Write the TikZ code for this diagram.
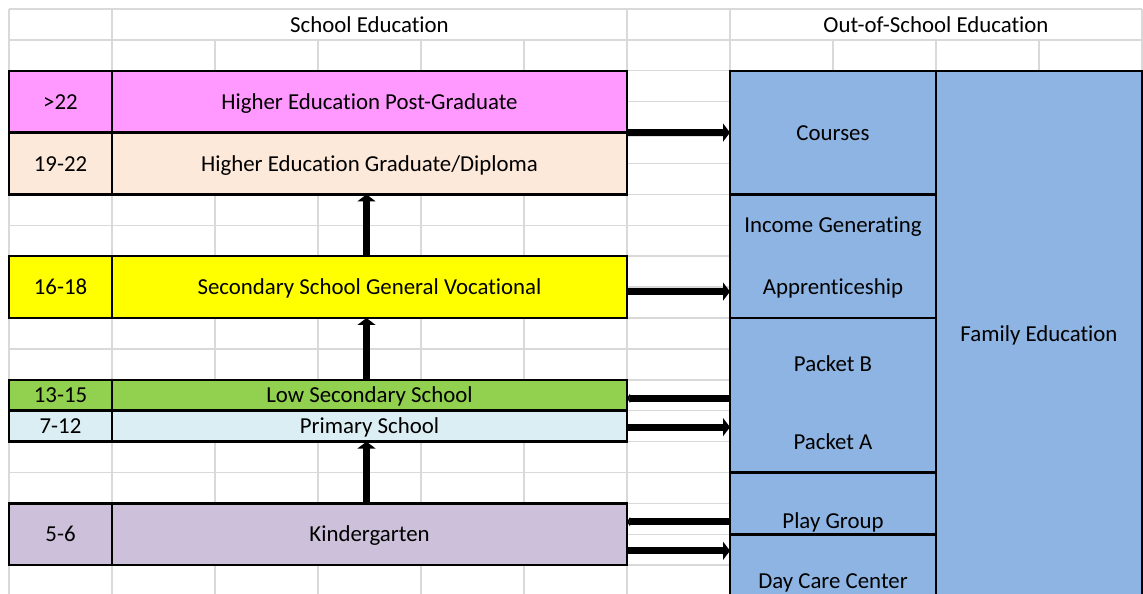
\documentclass[tikz,border=0pt]{standalone}
\usepackage{fontspec}
\setmainfont{Carlito}[Ligatures=NoCommon]
\usetikzlibrary{arrows.meta}

\definecolor{postgradpink}{RGB}{255,153,255}
\definecolor{gradpeach}{RGB}{253,233,217}
\definecolor{secyellow}{RGB}{255,255,0}
\definecolor{lowgreen}{RGB}{146,208,80}
\definecolor{primblue}{RGB}{218,238,243}
\definecolor{kglavender}{RGB}{204,192,218}
\definecolor{outblue}{RGB}{141,180,226}
\definecolor{cellgray}{RGB}{217,217,217}

\tikzset{
  cell/.style={draw=black, line width=1.4pt, rectangle, anchor=north west,
    inner sep=0pt, outer sep=0pt, font=\fontsize{13}{15}\selectfont,
    text height=10pt, text depth=1.3pt},
  agecell/.style={cell, minimum width=2.06cm},
  stagecell/.style={cell, minimum width=10.3cm},
  outcell/.style={cell, fill=outblue, minimum width=4.12cm},
  gridline/.style={draw=cellgray, line width=0.8pt},
  txt/.style={font=\fontsize{13}{15}\selectfont, inner sep=0pt,
    text height=10pt, text depth=1.3pt},
  flow/.style={line width=0.14cm, -{Triangle[length=0.14cm,width=0.36cm]}},
  back/.style={line width=0.14cm, -{Triangle[length=0.06cm,width=0.18cm]}},
}

\begin{document}
\begin{tikzpicture}[x=2.06cm, y=-0.618cm]
  \useasboundingbox (-0.0874,-0.2913) rectangle (11.0097,18.9);
  \clip (-0.0874,-0.2913) rectangle (11.0097,18.9);

  % Sheet grid
  \foreach \r in {0,...,19}
    \draw[gridline] (0,\r) -- (11,\r);
  \foreach \c in {0,...,11}
    \draw[gridline] (\c,1) -- (\c,19.5);
  \foreach \c in {0,1,6,7,11}
    \draw[gridline] (\c,0) -- (\c,1);

  % Headings
  \node[txt] (schoolhd) at (3.5,0.5) {School Education};
  \node[txt] (outhd) at (9,0.5) {Out-of-School Education};

  % School stages
  \node[agecell, fill=postgradpink, minimum height=1.236cm] (pgage) at (0,2) {>22};
  \node[stagecell, fill=postgradpink, minimum height=1.236cm] (pg) at (1,2) {Higher Education Post-Graduate};
  \node[agecell, fill=gradpeach, minimum height=1.236cm] (gradage) at (0,4) {19-22};
  \node[stagecell, fill=gradpeach, minimum height=1.236cm] (grad) at (1,4) {Higher Education Graduate/Diploma};
  \node[agecell, fill=secyellow, minimum height=1.236cm] (secage) at (0,8) {16-18};
  \node[stagecell, fill=secyellow, minimum height=1.236cm] (sec) at (1,8) {Secondary School General Vocational};
  \node[agecell, fill=lowgreen, minimum height=0.618cm] (lowage) at (0,12) {13-15};
  \node[stagecell, fill=lowgreen, minimum height=0.618cm] (low) at (1,12) {Low Secondary School};
  \node[agecell, fill=primblue, minimum height=0.618cm] (primage) at (0,13) {7-12};
  \node[stagecell, fill=primblue, minimum height=0.618cm] (prim) at (1,13) {Primary School};
  \node[agecell, fill=kglavender, minimum height=1.236cm] (kgage) at (0,16) {5-6};
  \node[stagecell, fill=kglavender, minimum height=1.236cm] (kg) at (1,16) {Kindergarten};

  % Out-of-school programmes
  \node[outcell, minimum height=2.472cm] (courses) at (7,2) {Courses};
  \node[outcell, minimum height=2.472cm] (income) at (7,6) {};
  \node[txt] (incgen) at (8,7) {Income Generating};
  \node[txt] (appr) at (8,9) {Apprenticeship};
  \node[outcell, minimum height=3.09cm] (packet) at (7,10) {};
  \node[txt] (pktb) at (8,11.5) {Packet B};
  \node[txt] (pkta) at (8,14) {Packet A};
  \node[outcell, minimum height=1.236cm] (play) at (7,15) {};
  \node[txt] (playlbl) at (8,16.55) {Play Group};
  \node[outcell, minimum height=1.854cm] (daycare) at (7,17) {Day Care Center};
  \node[outcell, minimum height=10.506cm] (family) at (9,2) {Family Education};

  % Links between the two sides
  \draw[flow] (pg.south east) -- (courses.west);
  \draw[flow] ([yshift=-0.09cm]sec.east) -- ([yshift=-0.09cm]sec.east -| income.west);
  \draw[back] ([yshift=-0.06cm]low.east -| packet.west) -- ([yshift=-0.06cm]low.east);
  \draw[flow] ([yshift=-0.02cm]prim.east) -- ([yshift=-0.02cm]prim.east -| packet.west);
  \draw[back] ([yshift=0.25cm]kg.east -| play.west) -- ([yshift=0.25cm]kg.east);
  \draw[flow] ([yshift=-0.33cm]kg.east) -- ([yshift=-0.33cm]kg.east -| daycare.west);

  % Moving up through school
  \draw[flow] ([xshift=-0.06cm]kg.north) -- ([xshift=-0.06cm]prim.south);
  \draw[flow] ([xshift=-0.06cm]low.north) -- ([xshift=-0.06cm]sec.south);
  \draw[flow] ([xshift=-0.06cm]sec.north) -- ([xshift=-0.06cm]grad.south);
\end{tikzpicture}
\end{document}
